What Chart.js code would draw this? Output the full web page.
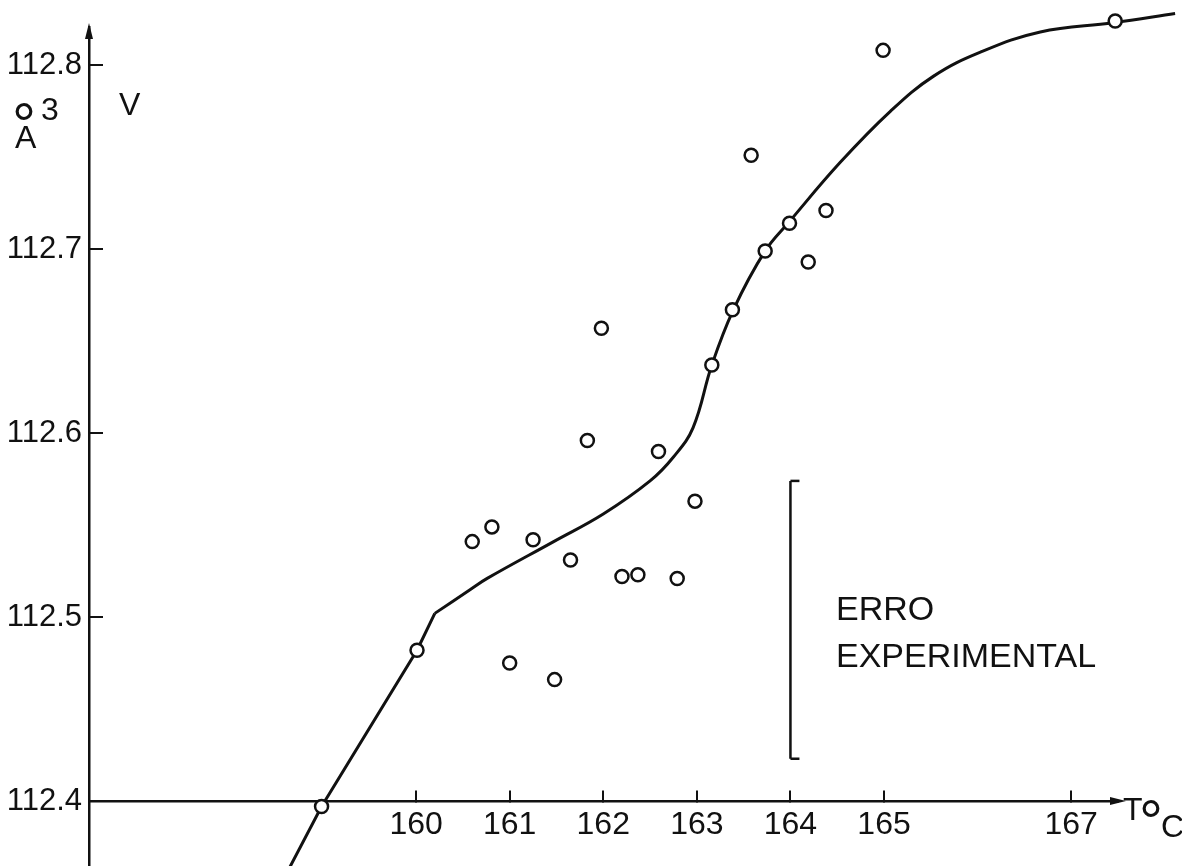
<!DOCTYPE html>
<html><head><meta charset="utf-8">
<script src="https://cdn.jsdelivr.net/npm/chart.js@4.4.0/dist/chart.umd.min.js"></script>
<style>html,body{margin:0;padding:0;background:#fff}#wrap{width:1182px;height:866px;position:relative}</style>
</head><body><div id="wrap"><canvas id="c"></canvas></div>
<script>
// ---- data ----
const xTicks = [160, 161, 162, 163, 164, 165, 167];
const yTicks = [112.4, 112.5, 112.6, 112.7, 112.8];

// measured points (T in °C, V in Å³)
const pointsT = [158.99, 160.01, 160.60, 160.81, 161.00, 161.25, 161.48, 161.65, 161.83, 161.98,
                 162.20, 162.37, 162.59, 162.79, 162.98, 163.16, 163.38, 163.58, 163.73, 163.99,
                 164.19, 164.38, 164.99, 167.47];
const pointsV = [112.397, 112.482, 112.541, 112.549, 112.475, 112.542, 112.466, 112.531, 112.596, 112.657,
                 112.522, 112.523, 112.590, 112.521, 112.563, 112.637, 112.667, 112.751, 112.699, 112.714,
                 112.693, 112.721, 112.808, 112.824];

// hand-drawn fitted curve: straight lower branch, then smooth upper branch
const lineT = [158.65, 158.99, 160.01, 160.20];
const lineV = [112.364, 112.397, 112.482, 112.502];
const curveT = [160.20, 160.58, 160.76, 161.47, 162.00, 162.50, 162.75,
                162.96, 163.16, 163.39, 163.73, 163.99, 164.53, 165.07, 165.53, 166.03, 166.67,
                167.45, 168.11];
const curveV = [112.502, 112.515, 112.521, 112.541, 112.556, 112.574, 112.587,
                112.603, 112.637, 112.667, 112.699, 112.715, 112.747, 112.775, 112.794, 112.807, 112.818,
                112.823, 112.828];

// experimental error bar
const errorT = [164.0, 164.0];
const errorV = [112.574, 112.423];

const xMin = 156.505, xMax = 167.50;
const yMin = 112.3647, yMax = 112.8207;

const toXY = (xs, ys) => xs.map((x, i) => ({x: x, y: ys[i]}));
const INK = '#111';
const FONT = '"Liberation Sans", Arial, sans-serif';

const annot = {
  id: 'annot',
  afterDraw(chart) {
    const ctx = chart.ctx, a = chart.chartArea;
    const y0 = chart.scales.y.getPixelForValue(112.4);
    ctx.save();
    ctx.fillStyle = INK;
    // arrow heads
    ctx.beginPath();
    ctx.moveTo(a.left, a.top - 4); ctx.lineTo(a.left - 4, a.top + 12); ctx.lineTo(a.left + 4, a.top + 12);
    ctx.closePath(); ctx.fill();
    ctx.beginPath();
    ctx.moveTo(a.right + 8, y0); ctx.lineTo(a.right - 8, y0 - 4); ctx.lineTo(a.right - 8, y0 + 4);
    ctx.closePath(); ctx.fill();
    // texts
    ctx.textAlign = 'left'; ctx.textBaseline = 'alphabetic';
    ctx.font = '32px ' + FONT;
    ctx.fillText('V', 119, 115);
    ctx.fillText('3', 41, 120);
    ctx.fillText('A', 15, 148);
    ctx.fillText('T', 1123, 820);
    ctx.fillText('C', 1161, 837);
    ctx.font = '60px ' + FONT;
    ctx.fillText('\u00B0', 12, 145);
    ctx.fillText('\u00B0', 1139, 842);
    ctx.font = '34px ' + FONT;
    ctx.fillText('ERRO', 836, 620);
    ctx.fillText('EXPERIMENTAL', 836, 667);
    ctx.restore();
  }
};

new Chart(document.getElementById('c'), {
  type: 'scatter',
  data: {
    datasets: [
      {
        label: 'reta', data: toXY(lineT, lineV), showLine: true, tension: 0,
        borderColor: INK, borderWidth: 3, pointRadius: 0, clip: false, order: 4
      },
      {
        label: 'curva', data: toXY(curveT, curveV), showLine: true, tension: 0.4,
        borderColor: INK, borderWidth: 3, pointRadius: 0, clip: false, order: 3
      },
      {
        label: 'erro', data: toXY(errorT, errorV), showLine: true,
        borderColor: INK, borderWidth: 2.5, pointStyle: 'dash', pointRadius: 9,
        pointBorderWidth: 2.5, pointBorderColor: INK, order: 2
      },
      {
        label: 'pontos', data: toXY(pointsT, pointsV), pointStyle: 'circle',
        pointRadius: 6.5, pointBorderWidth: 2.5, pointBorderColor: INK,
        pointBackgroundColor: '#fff', clip: false, order: 1
      }
    ]
  },
  options: {
    animation: false,
    responsive: true,
    maintainAspectRatio: false,
    layout: {autoPadding: false, padding: {top: 27, right: 64, left: 0, bottom: 0}},
    plugins: {legend: {display: false}, tooltip: {enabled: false}},
    scales: {
      x: {
        type: 'linear', min: xMin, max: xMax,
        position: {y: 112.4},
        afterBuildTicks: s => { s.ticks = xTicks.map(v => ({value: v})); },
        afterFit: s => { s.paddingLeft = 0; s.paddingRight = 0; },
        grid: {display: true, drawOnChartArea: false, drawTicks: true, tickLength: -12, color: INK, lineWidth: 2},
        border: {display: true, color: INK, width: 2.5},
        ticks: {color: INK, font: {family: FONT, size: 32}, padding: 17, maxRotation: 0, autoSkip: false,
                callback: v => String(v)}
      },
      y: {
        type: 'linear', min: yMin, max: yMax, position: 'left',
        afterBuildTicks: s => { s.ticks = yTicks.map(v => ({value: v})); },
        afterFit: s => { s.width = 89; s.paddingTop = 0; s.paddingBottom = 0; },
        grid: {display: true, drawOnChartArea: false, drawTicks: true, tickLength: -14, color: INK, lineWidth: 2},
        border: {display: true, color: INK, width: 2.5},
        ticks: {color: INK, font: {family: FONT, size: 31}, padding: 21, autoSkip: false,
                callback: v => v.toFixed(1)}
      }
    }
  },
  plugins: [annot]
});
</script>
</body></html>
